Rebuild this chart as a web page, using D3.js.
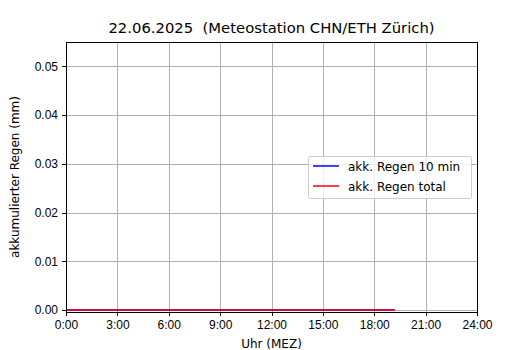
<!DOCTYPE html>
<html>
<head>
  <meta charset="utf-8">
  <style>
    body { margin: 0; background: #fff; }
    svg { display: block; font-family: "DejaVu Sans", sans-serif; }
    .grid line { stroke: #b0b0b0; stroke-width: 1; shape-rendering: crispEdges; }
    .axis text { font-size: 12px; fill: #000; }
    .axis line, .axis path { stroke: #000; shape-rendering: crispEdges; }
  </style>
</head>
<body>
  <div class="chart"></div>
  <script src="https://cdn.jsdelivr.net/npm/d3@7"></script>
  <script>
    // measurement times (hours since midnight) and rain values (mm)
    var hours = [0, 1, 2, 3, 4, 5, 6, 7, 8, 9, 10, 11, 12, 13, 14, 15, 16, 17, 18, 19, 19.2];
    var regen10min = [0, 0, 0, 0, 0, 0, 0, 0, 0, 0, 0, 0, 0, 0, 0, 0, 0, 0, 0, 0, 0];
    var regenTotal = [0, 0, 0, 0, 0, 0, 0, 0, 0, 0, 0, 0, 0, 0, 0, 0, 0, 0, 0, 0, 0];

    var xTicks = [0, 3, 6, 9, 12, 15, 18, 21, 24];
    var xTickLabels = ["0:00", "3:00", "6:00", "9:00", "12:00", "15:00", "18:00", "21:00", "24:00"];
    var yTicks = [0, 0.01, 0.02, 0.03, 0.04, 0.05];

    var seriesNames = ["akk. Regen 10 min", "akk. Regen total"];
    var seriesColors = ["#0000ff", "#ff0000"];

    var width = 530, height = 350;
    var margin = { top: 42, right: 53, bottom: 38, left: 66 };

    var svg = d3.select(".chart").append("svg")
      .attr("width", width)
      .attr("height", height);

    var x = d3.scaleLinear().domain([0, 24]).range([margin.left, width - margin.right]);
    var y = d3.scaleLinear().domain([-0.0004, 0.055]).range([height - margin.bottom, margin.top]);

    // grid
    var grid = svg.append("g").attr("class", "grid");
    grid.selectAll(".gx").data(xTicks).enter().append("line")
      .attr("x1", function (d) { return Math.round(x(d)) + 0.5; })
      .attr("x2", function (d) { return Math.round(x(d)) + 0.5; })
      .attr("y1", margin.top).attr("y2", height - margin.bottom);
    grid.selectAll(".gy").data(yTicks).enter().append("line")
      .attr("y1", function (d) { return Math.round(y(d)) + 0.5; })
      .attr("y2", function (d) { return Math.round(y(d)) + 0.5; })
      .attr("x1", margin.left).attr("x2", width - margin.right);

    // lines
    var line = d3.line()
      .x(function (d) { return x(d[0]); })
      .y(function (d) { return y(d[1]); });

    [regen10min, regenTotal].forEach(function (vals, i) {
      svg.append("path")
        .datum(hours.map(function (h, j) { return [h, vals[j]]; }))
        .attr("fill", "none")
        .attr("stroke", seriesColors[i])
        .attr("stroke-width", 1.5)
        .attr("d", line);
    });

    // axes
    var xAxis = d3.axisBottom(x).tickValues(xTicks)
      .tickFormat(function (d, i) { return xTickLabels[i]; })
      .tickSizeInner(4).tickSizeOuter(0).tickPadding(4);
    var yAxis = d3.axisLeft(y).tickValues(yTicks)
      .tickFormat(d3.format(".2f"))
      .tickSizeInner(4).tickSizeOuter(0).tickPadding(4);

    var gx = svg.append("g").attr("class", "axis")
      .attr("transform", "translate(0," + (height - margin.bottom) + ")")
      .call(xAxis);
    gx.select(".domain").remove();

    var gy = svg.append("g").attr("class", "axis")
      .attr("transform", "translate(" + margin.left + ",0)")
      .call(yAxis);
    gy.select(".domain").remove();

    // spines
    svg.append("rect")
      .attr("x", margin.left + 0.5).attr("y", margin.top + 0.5)
      .attr("width", width - margin.left - margin.right)
      .attr("height", height - margin.top - margin.bottom)
      .attr("fill", "none").attr("stroke", "#000").attr("stroke-width", 1)
      .style("shape-rendering", "crispEdges");

    // title & labels
    svg.append("text")
      .attr("x", (x(0) + x(24)) / 2).attr("y", 33)
      .attr("text-anchor", "middle")
      .style("font-size", "14.8px")
      .style("white-space", "pre")
      .text("22.06.2025  (Meteostation CHN/ETH Zürich)");

    svg.append("text")
      .attr("x", (x(0) + x(24)) / 2).attr("y", 348)
      .attr("text-anchor", "middle")
      .style("font-size", "12px")
      .text("Uhr (MEZ)");

    svg.append("text")
      .attr("transform", "translate(19," + ((margin.top + height - margin.bottom) / 2) + ") rotate(-90)")
      .attr("text-anchor", "middle")
      .style("font-size", "12px")
      .text("akkumulierter Regen (mm)");

    // legend
    var legend = svg.append("g").attr("transform", "translate(308,156)");
    legend.append("rect")
      .attr("x", 0.5).attr("y", 0.5).attr("width", 163).attr("height", 42)
      .attr("rx", 2)
      .attr("fill", "#fff").attr("fill-opacity", 0.8)
      .attr("stroke", "#cccccc");
    seriesNames.forEach(function (name, i) {
      var ly = 10 + i * 20;
      legend.append("line")
        .attr("x1", 5).attr("x2", 31)
        .attr("y1", ly).attr("y2", ly)
        .attr("stroke", seriesColors[i]).attr("stroke-width", 1.5);
      legend.append("text")
        .attr("x", 40).attr("y", ly + 4.5)
        .style("font-size", "12px")
        .text(name);
    });
  </script>
</body>
</html>
